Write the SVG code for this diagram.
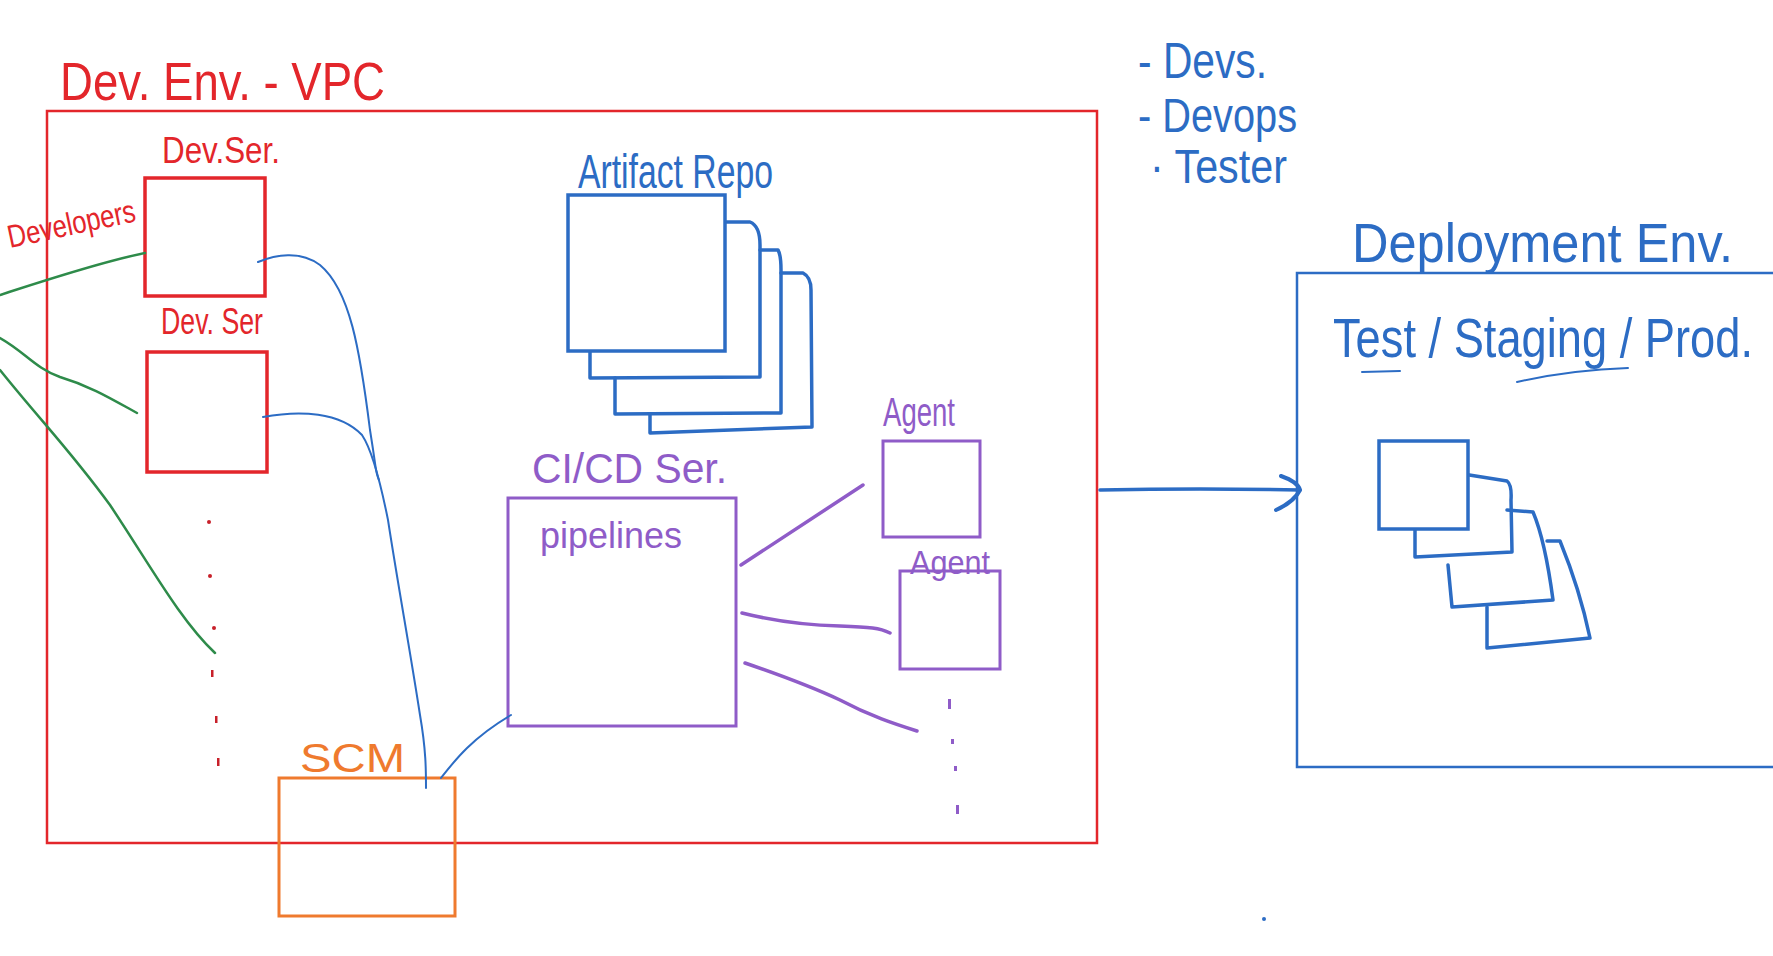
<svg xmlns="http://www.w3.org/2000/svg" width="1773" height="956" viewBox="0 0 1773 956">
<style>
.hand{font-family:"Liberation Sans","DejaVu Sans",sans-serif;}
.red{fill:#e3262b;}
.blue{fill:#2c6cc4;}
.purple{fill:#8f5cc8;}
.orange{fill:#ef7a2e;}
.redbox{fill:none;stroke:#e3262b;stroke-width:3.5;}
.bluebox{fill:none;stroke:#2c6cc4;stroke-width:3.5;stroke-linejoin:round;stroke-linecap:round;}
.purplebox{fill:none;stroke:#8f5cc8;stroke-width:3;}
.orangebox{fill:none;stroke:#ef7a2e;stroke-width:3;}
.green{fill:none;stroke:#2e8b4a;stroke-width:2.5;stroke-linecap:round;}
.bluel{fill:none;stroke:#2c6cc4;stroke-width:2;stroke-linecap:round;}
.purl{fill:none;stroke:#8f5cc8;stroke-width:3.5;stroke-linecap:round;}
</style>
<rect width="1773" height="956" fill="#ffffff"/>

<g id="dev-env-vpc">
<rect x="47" y="111" width="1050" height="732" fill="none" stroke="#e3262b" stroke-width="2.5"/>
<text class="hand red" x="60" y="100" font-size="54" textLength="325" lengthAdjust="spacingAndGlyphs">Dev. Env. - VPC</text>
</g>

<g id="developers">
<text class="hand red" x="10" y="248" font-size="32" textLength="130" lengthAdjust="spacingAndGlyphs" transform="rotate(-12 10 248)">Developers</text>
</g>

<g id="dev-ser-1">
<rect class="redbox" x="145" y="178" width="120" height="118"/>
<text class="hand red" x="162" y="163" font-size="36" textLength="118" lengthAdjust="spacingAndGlyphs">Dev.Ser.</text>
</g>

<g id="dev-ser-2">
<rect class="redbox" x="147" y="352" width="120" height="120"/>
<text class="hand red" x="161" y="334" font-size="36" textLength="102" lengthAdjust="spacingAndGlyphs">Dev. Ser</text>
</g>

<g id="dev-ser-more" fill="#c8202a">
<circle cx="209" cy="522" r="2"/>
<circle cx="210" cy="576" r="2"/>
<circle cx="214" cy="628" r="2"/>
<rect x="211" y="670" width="2.5" height="7"/>
<rect x="215" y="716" width="2.5" height="7"/>
<rect x="217" y="758" width="2.5" height="8"/>
</g>

<g id="artifact-repo">
<path class="bluebox" d="M725 222 L750 222 Q760 226 760 245 L760 377 L590 378 L590 351"/>
<path class="bluebox" d="M760 250 L778 250 Q781 255 781 270 L781 413 L615 414 L615 378"/>
<path class="bluebox" d="M781 273 L803 273 Q811 277 811 290 L812 427 L650 433 L650 414"/>
<rect x="568" y="195" width="157" height="156" fill="#ffffff" stroke="#2c6cc4" stroke-width="3.5"/>
<text class="hand blue" x="578" y="188" font-size="48" textLength="195" lengthAdjust="spacingAndGlyphs">Artifact Repo</text>
</g>

<g id="cicd-ser">
<rect class="purplebox" x="508" y="498" width="228" height="228"/>
<text class="hand purple" x="532" y="483" font-size="42" textLength="195" lengthAdjust="spacingAndGlyphs">CI/CD Ser.</text>
<text class="hand purple" x="540" y="548" font-size="36" textLength="142" lengthAdjust="spacingAndGlyphs">pipelines</text>
</g>

<g id="agent-1">
<rect class="purplebox" x="883" y="441" width="97" height="96"/>
<text class="hand purple" x="883" y="426" font-size="40" textLength="72" lengthAdjust="spacingAndGlyphs">Agent</text>
</g>

<g id="agent-2">
<rect class="purplebox" x="900" y="571" width="100" height="98"/>
<text class="hand purple" x="910" y="574" font-size="34" textLength="80" lengthAdjust="spacingAndGlyphs">Agent</text>
</g>

<g id="agent-more" fill="#8f5cc8">
<rect x="948" y="699" width="3" height="10"/>
<rect x="951" y="739" width="3" height="5"/>
<rect x="954" y="766" width="3" height="5"/>
<rect x="956" y="805" width="3" height="9"/>
</g>

<g id="scm">
<rect class="orangebox" x="279" y="778" width="176" height="138"/>
<text class="hand orange" x="300" y="772" font-size="40" textLength="105" lengthAdjust="spacingAndGlyphs">SCM</text>
</g>

<g id="roles">
<text class="hand blue" x="1138" y="78" font-size="50" textLength="129" lengthAdjust="spacingAndGlyphs">- Devs.</text>
<text class="hand blue" x="1138" y="132" font-size="48" textLength="159" lengthAdjust="spacingAndGlyphs">- Devops</text>
<text class="hand blue" x="1150" y="183" font-size="48" textLength="137" lengthAdjust="spacingAndGlyphs">· Tester</text>
</g>

<g id="deployment-env">
<path fill="none" stroke="#2c6cc4" stroke-width="2.5" d="M1790 273 L1297 273 L1297 767 L1790 767"/>
<text class="hand blue" x="1352" y="262" font-size="56" textLength="381" lengthAdjust="spacingAndGlyphs">Deployment Env.</text>
<text class="hand blue" x="0" y="0" font-size="45" textLength="420" lengthAdjust="spacingAndGlyphs" transform="translate(1333 357) scale(1 1.25)">Test / Staging / Prod.</text>
<path class="bluel" stroke-width="2.5" d="M1362 372 L1400 371"/>
<path class="bluel" stroke-width="2.5" d="M1517 382 Q1570 370 1628 368"/>
</g>

<g id="deployments">
<path class="bluebox" d="M1463 474 L1507 481 Q1512 485 1511 500 L1512 552 L1415 557 L1415 529"/>
<path class="bluebox" d="M1507 510 L1533 512 Q1545 540 1553 600 L1452 607 L1448 565"/>
<path class="bluebox" d="M1547 541 L1560 541 Q1580 590 1590 638 L1487 648 L1487 607"/>
<rect x="1379" y="441" width="89" height="88" fill="#ffffff" stroke="#2c6cc4" stroke-width="3.5"/>
</g>

<g id="connectors">
<path class="green" d="M0 295 C40 282 100 262 145 253"/>
<path class="green" d="M0 338 C25 352 35 368 60 377 C90 386 110 398 137 413"/>
<path class="green" d="M0 370 C40 420 70 450 110 505 C150 565 180 620 215 653"/>
<path class="bluel" d="M258 262 C275 255 300 250 320 265 C350 290 360 350 370 430 C378 480 375 470 379 480"/>
<path class="bluel" d="M263 417 C300 410 340 412 362 435 C372 450 380 480 388 520 C398 585 410 650 420 715 C426 750 426 770 426 788"/>
<path class="bluel" d="M441 778 C455 760 472 738 511 715"/>
<path class="purl" d="M741 565 L863 485"/>
<path class="purl" d="M742 613 C770 620 800 625 840 626 C870 627 880 628 890 633"/>
<path class="purl" d="M745 663 C780 675 810 686 840 700 C870 716 895 724 917 731"/>
<path fill="none" stroke="#2c6cc4" stroke-width="3.5" stroke-linecap="round" stroke-linejoin="round" d="M1100 490 C1150 489 1200 488 1300 490"/>
<path fill="none" stroke="#2c6cc4" stroke-width="4" stroke-linecap="round" stroke-linejoin="round" d="M1281 476 Q1298 482 1300 490 Q1294 502 1276 510"/>
</g>

<circle cx="1264" cy="919" r="2" fill="#2c6cc4"/>
</svg>
